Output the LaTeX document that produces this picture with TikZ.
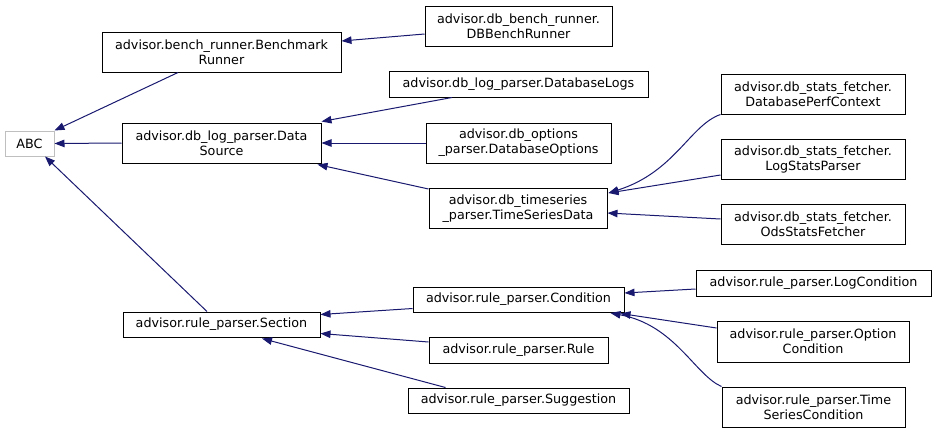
\documentclass[tikz,border=0pt]{standalone}
\usepackage{fontspec}
\setmainfont{DejaVu Sans}
\usetikzlibrary{arrows.meta,calc}
\definecolor{edgeblue}{HTML}{191970}
\definecolor{absgray}{HTML}{BFBFBF}
\begin{document}
\begin{tikzpicture}[x=0.75pt,y=-0.75pt,
  cls/.style 2 args={draw=black,line width=0.75pt,fill=white,inner sep=0pt,align=center,
    minimum width=#1*0.75pt,minimum height=#2*0.75pt,
    font=\fontsize{9.55}{11.25}\selectfont},
  absnode/.style 2 args={cls={#1}{#2},draw=absgray},
  edge/.style={draw=edgeblue,line width=0.75pt,
    {Triangle[length=7.5pt,width=5.6pt]}-}]
\useasboundingbox (0,0) rectangle (936,433);
% nodes
\node[absnode={49}{25}] (ABC) at (29.5,143.5) {ABC};
\node[cls={239}{40}] (BR) at (221.5,52) {advisor.bench\_runner.Benchmark\\Runner};
\node[cls={199}{40}] (DS) at (221.5,143) {advisor.db\_log\_parser.Data\\Source};
\node[cls={197}{25}] (SEC) at (221.5,324.5) {advisor.rule\_parser.Section};
\node[cls={187}{40}] (DBB) at (518.5,26) {advisor.db\_bench\_runner.\\DBBenchRunner};
\node[cls={259}{26}] (DBL) at (518.5,84) {advisor.db\_log\_parser.DatabaseLogs};
\node[cls={185}{40}] (DBO) at (518.5,143) {advisor.db\_options\\\_parser.DatabaseOptions};
\node[cls={178}{40}] (TSD) at (518,208.5) {advisor.db\_timeseries\\\_parser.TimeSeriesData};
\node[cls={184}{40}] (DPC) at (813,94) {advisor.db\_stats\_fetcher.\\DatabasePerfContext};
\node[cls={184}{40}] (LSP) at (813,159) {advisor.db\_stats\_fetcher.\\LogStatsParser};
\node[cls={184}{40}] (OSF) at (813,224) {advisor.db\_stats\_fetcher.\\OdsStatsFetcher};
\node[cls={211}{25}] (COND) at (518.5,299.5) {advisor.rule\_parser.Condition};
\node[cls={179}{26}] (RULE) at (518.5,350) {advisor.rule\_parser.Rule};
\node[cls={221}{25}] (SUG) at (518.5,400.5) {advisor.rule\_parser.Suggestion};
\node[cls={235}{26}] (LOGC) at (813.5,283) {advisor.rule\_parser.LogCondition};
\node[cls={192}{41}] (OPTC) at (813,341.5) {advisor.rule\_parser.Option\\Condition};
\node[cls={183}{40}] (TSC) at (813.5,407) {advisor.rule\_parser.Time\\SeriesCondition};
% edges (arrow at parent)
\draw[edge] (ABC.north east) -- ($(BR.south)+(-43.5,0)$);
\draw[edge] (ABC.east) -- (DS.west);
\draw[edge] ($(ABC.south)+(15.5,0)$) -- ($(SEC.north)+(-14.5,0)$);
\draw[edge] ($(BR.east)+(0,-11)$) -- ($(DBB.west)+(0,8)$);
\draw[edge] ($(DS.north east)+(0,-1)$) -- ($(DBL.south)+(-66.5,0)$);
\draw[edge] (DS.east) -- (DBO.west);
\draw[edge] ($(DS.south east)+(-4,1)$) -- ($(TSD.north west)+(0,1)$);
\draw[edge] ($(TSD.north east)+(1,5)$) .. controls (675,172) and (690,125) .. (DPC.south west);
\draw[edge] ($(TSD.north east)+(1,5)$) -- ($(LSP.west)+(0,16)$);
\draw[edge] ($(TSD.east)+(0,4.5)$) -- ($(OSF.west)+(0,-5)$);
\draw[edge] ($(SEC.north east)+(0,3)$) -- ($(COND.south west)+(0,-4)$);
\draw[edge] ($(SEC.south east)+(0,-4)$) -- ($(RULE.west)+(0,-8)$);
\draw[edge] ($(SEC.south)+(40.5,1)$) -- ($(SUG.north west)+(38,0)$);
\draw[edge] ($(COND.east)+(0,-6.5)$) -- ($(LOGC.west)+(0,6)$);
\draw[edge] ($(COND.south east)+(-4,1)$) -- ($(OPTC.west)+(0,-13.5)$);
\draw[edge] ($(COND.south east)+(-14,0.5)$) .. controls (675,325) and (695,375) .. (TSC.north west);
\end{tikzpicture}
\end{document}
